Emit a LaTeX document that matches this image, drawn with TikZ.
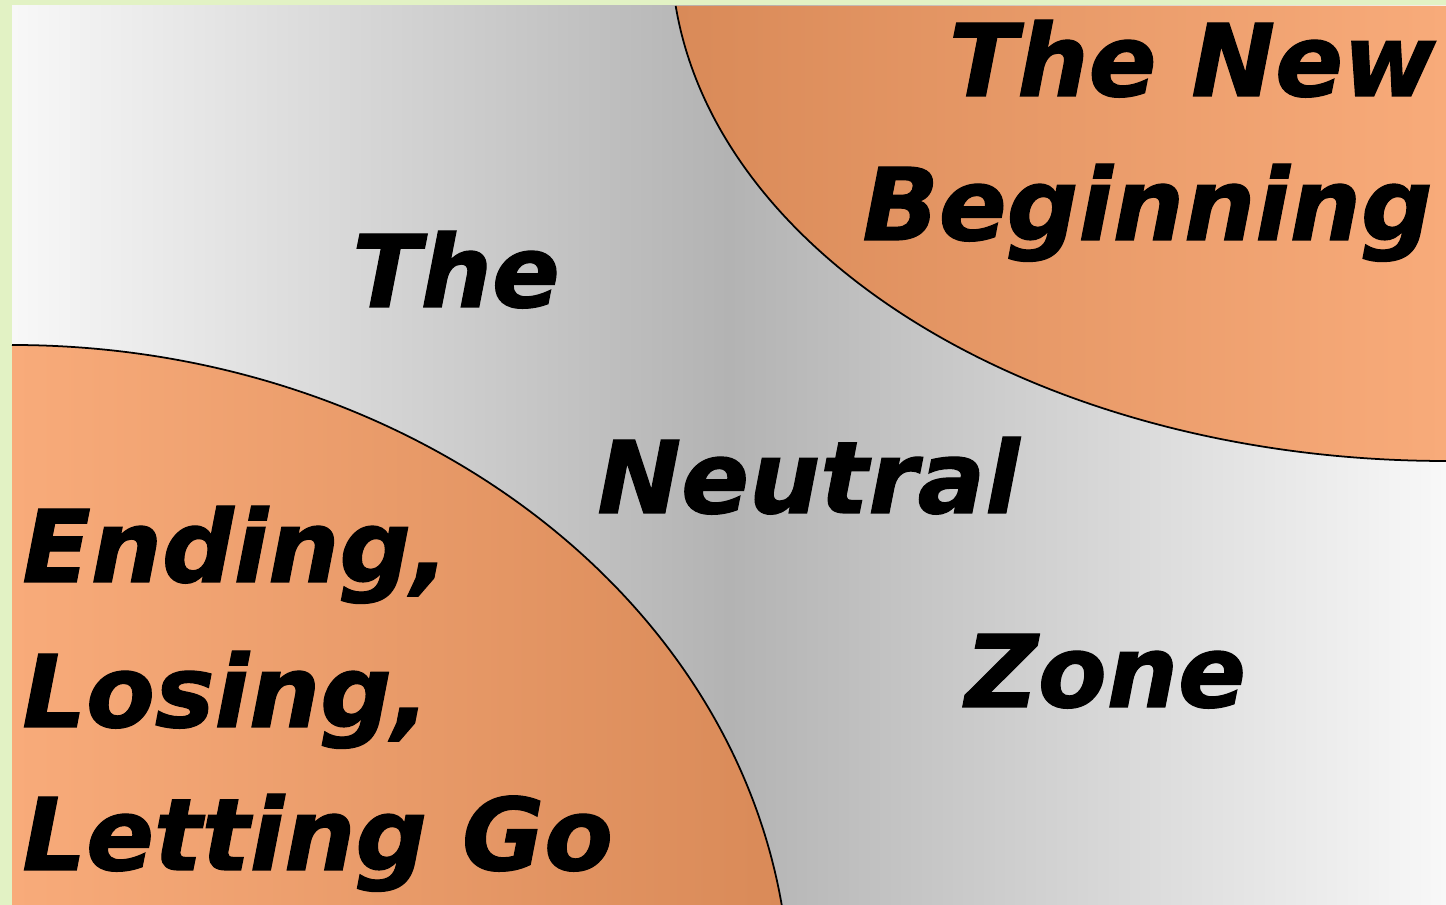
\documentclass[tikz,border=0pt]{standalone}
\usepackage{fontspec}
\newfontfamily\zonefont{DejaVu Sans}[FakeBold=1.2]
\usetikzlibrary{positioning}

\definecolor{frameGreen}{HTML}{E2F2C4}
\definecolor{paleGray}{HTML}{F8F8F8}
\definecolor{midGray}{HTML}{B3B3B3}
\definecolor{lightOrange}{HTML}{F8AB7A}
\definecolor{darkOrange}{HTML}{D98A58}

\begin{document}
\begin{tikzpicture}[x=0.02cm, y=0.02cm,
    phase/.style={font=\zonefont\bfseries\itshape\fontsize{57}{68}\selectfont, inner sep=0pt},
    rim/.style={draw=black, line width=1pt}]
    \useasboundingbox (0,0) rectangle (1446,905);
    \fill[frameGreen] (0,0) rectangle (1446,905);
    \shade[left color=paleGray, right color=paleGray, middle color=midGray] (12,0) rectangle (1446,899);

    % ending zone, lower left
    \shade[left color=lightOrange, right color=darkOrange]
        (12,0) -- (12,560) arc[start angle=90, end angle=8.34, x radius=778, y radius=655] -- cycle;
    \draw[rim] (12,560) arc[start angle=90, end angle=8.34, x radius=778, y radius=655];

    % new beginning, upper right
    \shade[left color=darkOrange, right color=lightOrange]
        (1446,899) -- (1446,444) arc[start angle=270, end angle=186.29, x radius=775, y radius=511] -- cycle;
    \draw[rim] (1446,444) arc[start angle=270, end angle=186.29, x radius=775, y radius=511];

    \node[phase, anchor=base east] (newA) at (1436,809) {The New};
    \node[phase, anchor=base east] (newB) at (1433,665) {Beginning};

    \node[phase, anchor=base west] (neutralA) at (352,598) {The};
    \node[phase, anchor=base west] (neutralB) at (597,392) {Neutral};
    \node[phase, anchor=base west] (neutralC) at (965,198) {Zone};

    \node[phase, anchor=base west] (endA) at (22,323) {Ending,};
    \node[phase, anchor=base west] (endB) at (22,178) {Losing,};
    \node[phase, anchor=base west] (endC) at (22,35) {Letting Go};
\end{tikzpicture}
\end{document}
